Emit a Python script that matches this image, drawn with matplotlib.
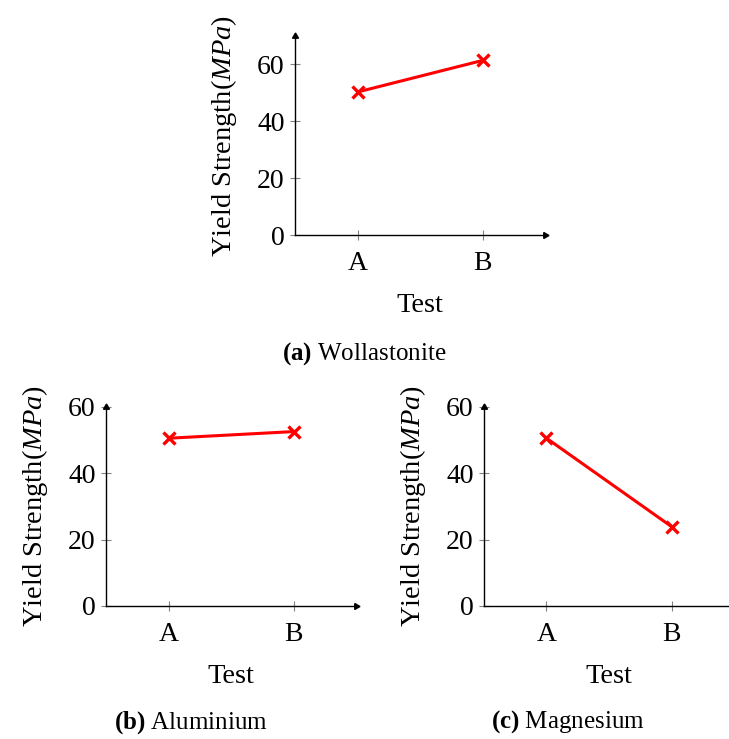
import numpy as np
import matplotlib
matplotlib.use("Agg")
import matplotlib.pyplot as plt

plt.rcParams['font.family'] = ['Liberation Serif', 'DejaVu Serif']
plt.rcParams['mathtext.fontset'] = 'custom'
plt.rcParams['mathtext.rm'] = 'Liberation Serif'
plt.rcParams['mathtext.it'] = 'Liberation Serif:italic'
plt.rcParams['mathtext.bf'] = 'Liberation Serif:bold'

# datos
tests = ["A", "B"]
wollastonite = [50.3, 61.4]
aluminium = [50.5, 52.5]
magnesium = [50.5, 23.9]

captions = ["(a)", "(b)", "(c)"]
names = ["Wollastonite", "Aluminium", "Magnesium"]
ymaxs = [70, 60, 60]
yticks = [0, 20, 40, 60]

fig = plt.figure(figsize=(7.29, 7.39), dpi=100)
# posiciones de los ejes (fraccion de figura)
pos = [[0.4047, 0.682, 0.343, 0.2693],
       [0.1454, 0.180, 0.343, 0.2697],
       [0.6639, 0.180, 0.343, 0.2697]]
cap_xy = [(0.5, 0.522), (0.262, 0.022), (0.779, 0.024)]
series = [wollastonite, aluminium, magnesium]

for k in range(3):
    ax = fig.add_axes(pos[k])
    x = np.arange(1, len(tests) + 1)
    ax.plot(x, series[k], color=(1, 0, 0), linewidth=2.2, marker='x',
            markersize=8, markeredgewidth=2.4, clip_on=False, zorder=3)
    ax.set_xlim(0.5, 2.5)
    ax.set_ylim(0, ymaxs[k])
    ax.set_xticks(x)
    ax.set_xticklabels(tests)
    ax.set_yticks(yticks)
    ax.spines['top'].set_visible(False)
    ax.spines['right'].set_visible(False)
    for s in ['left', 'bottom']:
        ax.spines[s].set_linewidth(1.0)
    ax.tick_params(direction='inout', length=7, width=0.8, color='#808080',
                   labelsize=20, pad=4)
    ax.tick_params(axis='x', pad=8)
    # flechas de los ejes
    ax.plot(1, 0, marker=(3, 0, -90), color='k', markersize=5,
            transform=ax.transAxes, clip_on=False)
    ax.plot(0, 1, marker=(3, 0, 0), color='k', markersize=5,
            transform=ax.transAxes, clip_on=False)
    ax.set_xlabel("Test", fontsize=20.5, labelpad=12)
    ax.set_ylabel(r"Yield Strength$(MPa)$", fontsize=20.5, labelpad=13)
    fig.text(cap_xy[k][0], cap_xy[k][1], r"$\mathbf{" + captions[k] + "}$ " + names[k],
             ha='center', va='center', fontsize=18)

plt.savefig("out.png", dpi=100)
